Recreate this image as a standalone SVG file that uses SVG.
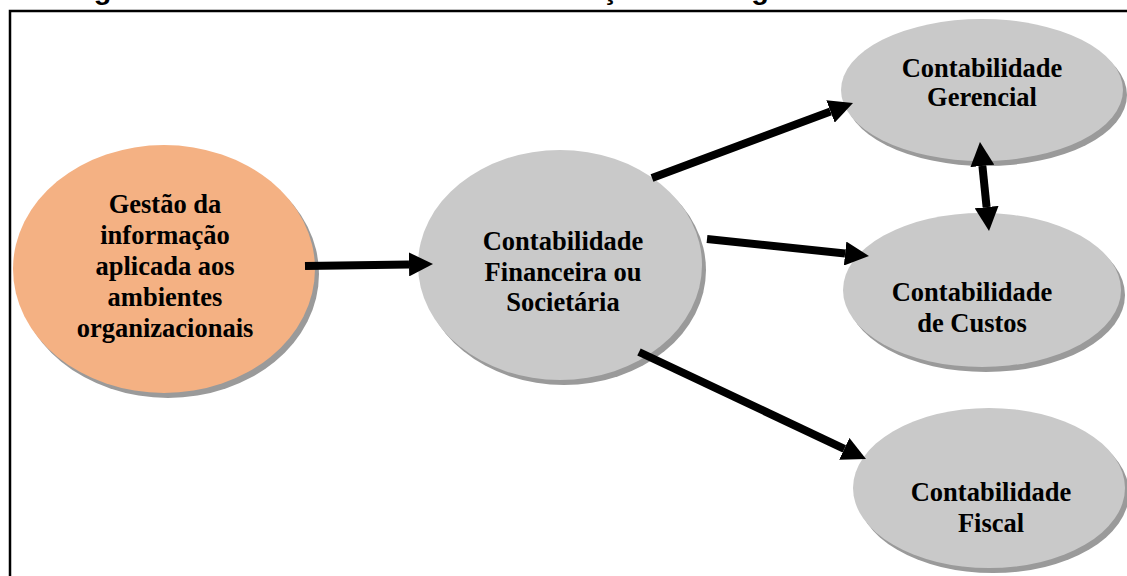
<svg xmlns="http://www.w3.org/2000/svg" width="1127" height="576" viewBox="0 0 1127 576">
  <style>
    .frame { fill: none; stroke: #000; stroke-width: 2.5; }
    .shadow { fill: #9a9a9a; }
    .gray { fill: #c9c9c9; }
    .orange { fill: #f4b183; }
    .label { font-family: "Liberation Serif", "Times New Roman", serif; font-weight: bold; font-size: 26.5px; fill: #000; text-anchor: middle; }
    .title { font-family: "Liberation Sans", Arial, sans-serif; font-weight: bold; font-size: 27px; fill: #000; }
    .link { stroke: #000; stroke-width: 8; fill: none; }
  </style>
  <defs>
    <marker id="head" markerUnits="strokeWidth" markerWidth="3" markerHeight="3" viewBox="0 0 3 3" refX="0" refY="1.5" orient="auto-start-reverse">
      <path d="M0,0 L3,1.5 L0,3 z" fill="#000"/>
    </marker>
  </defs>

  <rect width="1127" height="576" fill="#fff"/>

  <!-- caption, cut by the top edge -->
  <text class="title" x="68" y="-1" textLength="1040" lengthAdjust="spacingAndGlyphs">Figura 6 – Níveis da Gestão da Informação nos segmentos da contabilidade</text>

  <!-- outer frame -->
  <rect class="frame" x="10" y="11" width="1120" height="580"/>

  <g id="node-gestao">
    <ellipse class="shadow" cx="168" cy="274" rx="151" ry="124"/>
    <ellipse class="orange" cx="164" cy="269" rx="151" ry="124"/>
    <text class="label" x="165" y="213">Gestão da</text>
    <text class="label" x="165" y="244">informação</text>
    <text class="label" x="165" y="275">aplicada aos</text>
    <text class="label" x="165" y="306">ambientes</text>
    <text class="label" x="165" y="337">organizacionais</text>
  </g>

  <g id="node-financeira">
    <ellipse class="shadow" cx="564" cy="270" rx="142" ry="115"/>
    <ellipse class="gray" cx="560" cy="265" rx="142" ry="115"/>
    <text class="label" x="563" y="250">Contabilidade</text>
    <text class="label" x="563" y="281">Financeira ou</text>
    <text class="label" x="563" y="311">Societária</text>
  </g>

  <g id="node-gerencial">
    <ellipse class="shadow" cx="986" cy="95" rx="141" ry="71"/>
    <ellipse class="gray" cx="982" cy="90" rx="141" ry="71"/>
    <text class="label" x="982" y="77">Contabilidade</text>
    <text class="label" x="982" y="106">Gerencial</text>
  </g>

  <g id="node-custos">
    <ellipse class="shadow" cx="986" cy="295" rx="139" ry="77"/>
    <ellipse class="gray" cx="982" cy="290" rx="139" ry="77"/>
    <text class="label" x="972" y="301">Contabilidade</text>
    <text class="label" x="972" y="332">de Custos</text>
  </g>

  <g id="node-fiscal">
    <ellipse class="shadow" cx="993" cy="493" rx="136" ry="80"/>
    <ellipse class="gray" cx="989" cy="488" rx="136" ry="80"/>
    <text class="label" x="991" y="501">Contabilidade</text>
    <text class="label" x="991" y="532">Fiscal</text>
  </g>

  <g id="connectors">
    <line class="link" x1="305" y1="266" x2="409" y2="264.4" marker-end="url(#head)"/>
    <line class="link" x1="652" y1="178" x2="830.5" y2="111.4" marker-end="url(#head)"/>
    <line class="link" x1="707" y1="239" x2="845.1" y2="253.5" marker-end="url(#head)"/>
    <line class="link" x1="639" y1="352" x2="844.3" y2="448.8" marker-end="url(#head)"/>
    <line class="link" x1="982.4" y1="165.9" x2="986.6" y2="207.1" marker-start="url(#head)" marker-end="url(#head)"/>
  </g>
</svg>
